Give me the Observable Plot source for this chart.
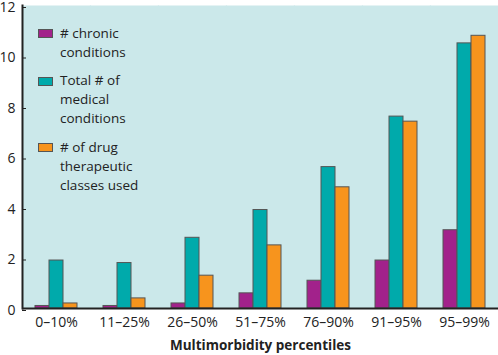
<!DOCTYPE html>
<html><head><meta charset="utf-8">
<script src="https://cdn.jsdelivr.net/npm/d3@7"></script>
<script src="https://cdn.jsdelivr.net/npm/@observablehq/plot@0.6"></script>
<style>
body{margin:0;background:#fff;font-family:"Open Sans",sans-serif}
#wrap{position:relative;width:498px;height:355px}
#legend{position:absolute;left:38px;top:23.5px;font-size:13.5px;line-height:19px;color:#222;font-family:"Open Sans",sans-serif}
.item{display:flex;align-items:flex-start;margin-bottom:9.5px}
.sw{width:15px;height:9px;margin-top:5.5px;margin-right:7px;box-sizing:border-box;border:1px solid #555}
.lab{white-space:pre-line}
</style></head>
<body><div id="wrap"><div id="chart"></div><div id="legend"></div></div>
<script>
const percentiles = ["0–10%","11–25%","26–50%","51–75%","76–90%","91–95%","95–99%"];
const seriesNames = ["# chronic\nconditions","Total # of\nmedical\nconditions","# of drug\ntherapeutic\nclasses used"];
const chronic = [0.1,0.1,0.2,0.6,1.1,1.9,3.1];
const totalMedical = [1.9,1.8,2.8,3.9,5.6,7.6,10.5];
const drugClasses = [0.2,0.4,1.3,2.5,4.8,7.4,10.8];
const colors = ["#a2228b","#00aaab","#f7941d"];
const yTicks = [0,2,4,6,8,10,12];
const xTitle = "Multimorbidity percentiles";

const seriesValues = [chronic,totalMedical,drugClasses];
const data = percentiles.flatMap((p,i)=>seriesNames.map((s,j)=>({group:p,series:s,value:seriesValues[j][i]})));

const chart = Plot.plot({
  width:498, height:355,
  marginTop:5, marginBottom:47, marginLeft:22, marginRight:0,
  style:{fontFamily:"Open Sans, sans-serif", fontSize:"14px", color:"#222", background:"transparent"},
  fx:{domain:percentiles, padding:0},
  x:{domain:seriesNames, axis:null, paddingInner:0, paddingOuter:0.77},
  y:{domain:[0,12], label:null},
  color:{domain:seriesNames, range:colors},
  marks:[
    Plot.frame({fill:"#cbe8ea", stroke:null, insetLeft:-0.6, insetRight:-0.6}),
    Plot.barY(data,{fx:"group", x:"series", y:"value", fill:"series", stroke:"#555", strokeWidth:1, inset:0}),
    Plot.ruleY([0],{stroke:"#222", strokeWidth:2}),
    Plot.frame({anchor:"left", stroke:"#222", strokeWidth:2, facetAnchor:"left"}),
    Plot.axisY(yTicks,{tickSize:-4, tickPadding:11, dy:2, stroke:"#222", label:null}),
    Plot.axisFx({anchor:"bottom", tickSize:0, tickPadding:9, label:xTitle, labelAnchor:"center", labelOffset:41})
  ]
});
document.getElementById("chart").appendChild(chart);
d3.select(chart).selectAll("text").filter(function(){return this.textContent===xTitle;})
  .attr("font-weight","bold").attr("font-size","13.5px");

const legend = d3.select("#legend");
seriesNames.forEach((s,i)=>{
  const it = legend.append("div").attr("class","item");
  it.append("div").attr("class","sw").style("background",colors[i]);
  it.append("div").attr("class","lab").text(s);
});
</script>
</body></html>
